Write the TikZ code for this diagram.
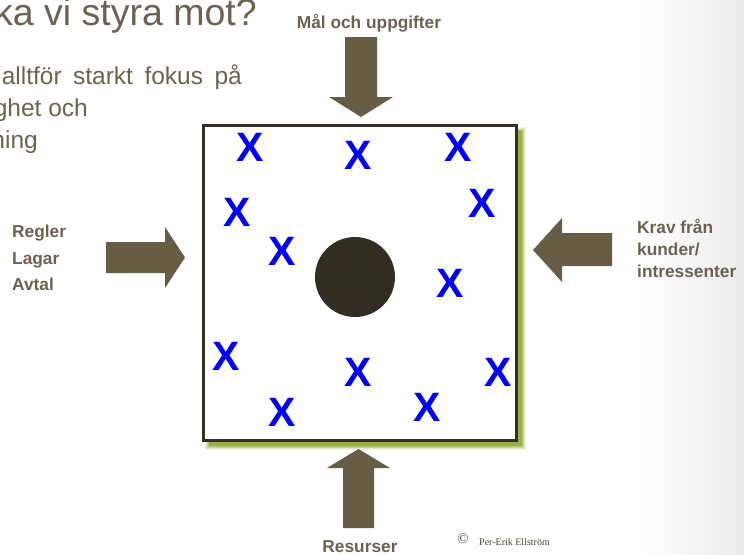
\documentclass[tikz,border=0pt]{standalone}
\usepackage{fontspec}
\setmainfont{Liberation Sans}
\newfontfamily\serifx{Liberation Serif}
\definecolor{txt}{RGB}{107,99,80}
\definecolor{arr}{RGB}{103,93,70}
\definecolor{shad}{RGB}{152,176,64}
\definecolor{frm}{RGB}{51,47,38}
\definecolor{dotc}{RGB}{50,46,36}
\tikzset{
  lab/.style={text=txt,font=\bfseries\fontsize{17.3}{20}\selectfont,inner sep=0pt},
  xm/.style={text=blue,font=\bfseries\fontsize{41}{41}\selectfont,inner sep=0pt},
  body/.style={text=txt,font=\fontsize{24.5}{28}\selectfont,inner sep=0pt},
  arrowshape/.style={fill=arr,draw=none}
}
\begin{document}
\begin{tikzpicture}[x=1pt,y=-1pt]
\useasboundingbox (0,0) rectangle (744,554);
\begin{scope}
\clip (0,0) rectangle (744,554);
\fill[white] (0,0) rectangle (744,554);
\shade[left color=white,right color=gray!16] (640,0) rectangle (744,554);
% title and body text (cut at the left edge)
\node[text=txt,font=\fontsize{37.5}{40}\selectfont,inner sep=0pt,anchor=base east] (title) at (257,25) {ka vi styra mot?};
\node[body,anchor=base east] (b1) at (242,84) {\makebox[240pt][s]{alltför starkt fokus på}};
\node[body,anchor=base east] (b2) at (88,116) {ghet och};
\node[body,anchor=base east] (b3) at (38,148) {ning};
% box with soft shadow
\foreach \d/\o in {4/0.12,3/0.2,2/0.3,1/0.45}{
  \fill[shad,opacity=\o] (209-\d,131-\d) rectangle (522+\d,446+\d);
}
\fill[shad] (209,131) rectangle (522,446);
\node[draw=frm,line width=3pt,fill=white,minimum width=313pt,minimum height=315pt,inner sep=0pt] (box) at (359.5,282.5) {};
\node[circle,fill=dotc,minimum size=80pt,inner sep=0pt] (core) at (355,277) {};
% X marks
\node[xm] (x1) at (250,147) {X};
\node[xm] (x2) at (358,155) {X};
\node[xm] (x3) at (458,147) {X};
\node[xm] (x4) at (237,212) {X};
\node[xm] (x5) at (482,203) {X};
\node[xm] (x6) at (282,251) {X};
\node[xm] (x7) at (450,283) {X};
\node[xm] (x8) at (226,356) {X};
\node[xm] (x9) at (358,372) {X};
\node[xm] (x10) at (498,372) {X};
\node[xm] (x11) at (282,412) {X};
\node[xm] (x12) at (427,407) {X};
% arrows
\fill[arrowshape] (345,37) -- (377,37) -- (377,97) -- (393,97) -- (361,117) -- (329,97) -- (345,97) -- cycle;
\fill[arrowshape] (106,242) -- (165,242) -- (165,227) -- (185,257.5) -- (165,288) -- (165,273) -- (106,273) -- cycle;
\fill[arrowshape] (612,233) -- (562,233) -- (562,218) -- (533,250) -- (562,282) -- (562,266) -- (612,266) -- cycle;
\fill[arrowshape] (358.5,449) -- (390,468) -- (374,468) -- (374,528) -- (343,528) -- (343,468) -- (327,468) -- cycle;
% labels
\node[lab,anchor=base] (mal) at (369,28) {Mål och uppgifter};
\node[lab,anchor=base west] (regler) at (12,237) {Regler};
\node[lab,anchor=base west] (lagar) at (12,264) {Lagar};
\node[lab,anchor=base west] (avtal) at (12,290) {Avtal};
\node[lab,anchor=base west] (krav1) at (637,233) {Krav från};
\node[lab,anchor=base west] (krav2) at (637,255) {kunder/};
\node[lab,anchor=base west] (krav3) at (637,277) {intressenter};
\node[lab,anchor=base] (res) at (360,552) {Resurser};
\node[text=txt!70!black,font=\serifx\fontsize{15}{15}\selectfont,inner sep=0pt,anchor=center] (copy) at (463,539) {©};
\node[text=txt!70!black,font=\serifx\fontsize{10}{10}\selectfont,inner sep=0pt,anchor=base west] (auth) at (479,545) {Per-Erik Ellström};
\end{scope}
\end{tikzpicture}
\end{document}
